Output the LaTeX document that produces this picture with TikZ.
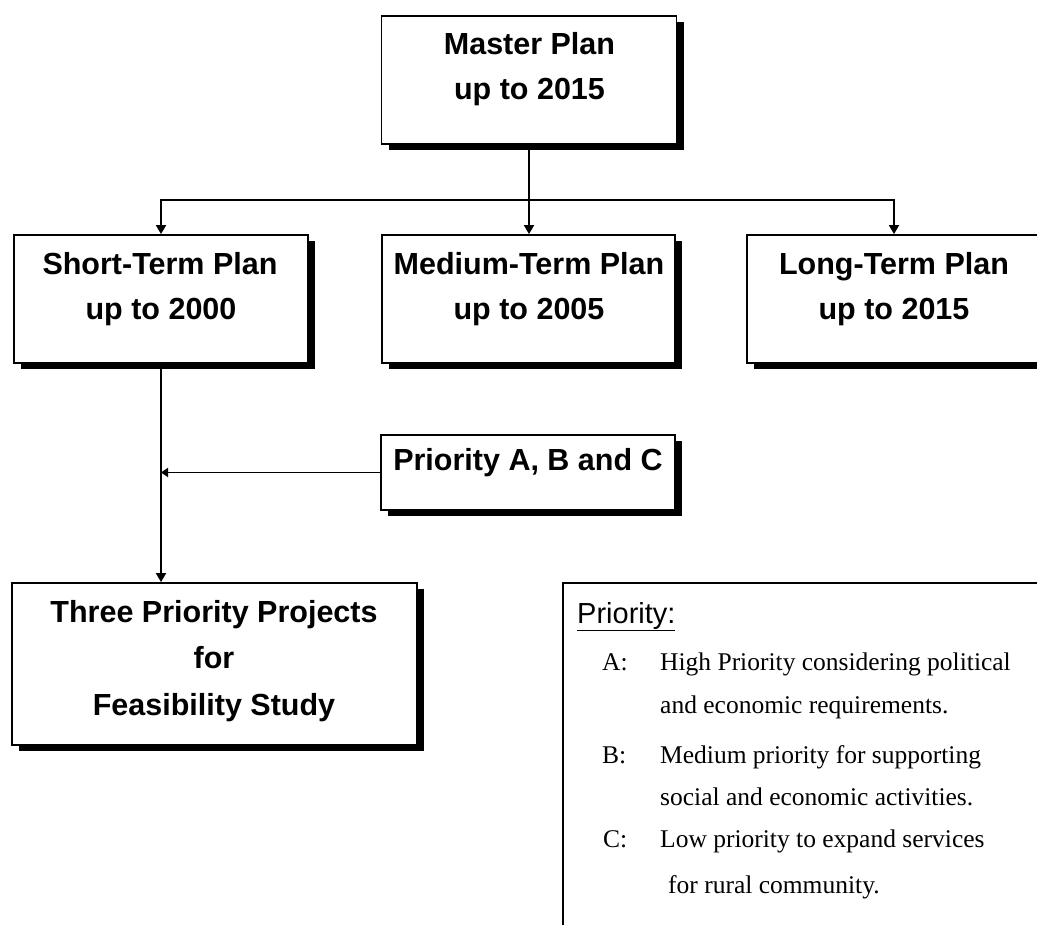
\documentclass[tikz,border=0pt]{standalone}
\usepackage{fontspec}
\setmainfont{Liberation Serif}
\setsansfont{Liberation Sans}
\usetikzlibrary{shadows,arrows.meta}
\begin{document}
\begin{tikzpicture}[x=1pt,y=-1pt,
  planbox/.style={draw, line width=1.8pt, fill=white, inner sep=0pt,
    general shadow={fill=black, shadow xshift=7pt, shadow yshift=-6pt}},
  legendbox/.style={draw, line width=1.6pt, fill=white, inner sep=0pt},
  bt/.style={font=\sffamily\bfseries\fontsize{30.5}{36}\selectfont, anchor=base, inner sep=0pt},
  lt/.style={font=\rmfamily\fontsize{25.5}{30}\selectfont, anchor=base west, inner sep=0pt},
  conn/.style={line width=1.8pt},
  arr/.style={conn, -{Triangle[length=9pt,width=10pt]}},
  smallarr/.style={conn, -{Triangle[length=7pt,width=9pt]}}]
\useasboundingbox (0,0) rectangle (1037,925);
\clip (0,0) rectangle (1037,925);
\fill[white] (0,0) rectangle (1037,925);

% boxes
\node[planbox, minimum width=295pt, minimum height=128pt] (master) at (529,80) {};
\node[planbox, minimum width=294pt, minimum height=128pt] (short) at (161,299) {};
\node[planbox, minimum width=293pt, minimum height=128pt] (medium) at (528.5,299) {};
\node[planbox, minimum width=294pt, minimum height=128pt] (long) at (894,299) {};
\node[planbox, minimum width=294pt, minimum height=75pt] (prio) at (528,472.5) {};
\node[planbox, minimum width=405pt, minimum height=162pt] (three) at (214.5,664) {};
\node[legendbox, minimum width=497pt, minimum height=377pt] (legend) at (811.5,771.5) {};

% box texts
\node[bt] (mt1) at (529.5,55) {Master Plan};
\node[bt] (mt2) at (529.5,100) {up to 2015};
\node[bt] (st1) at (160,275) {Short-Term Plan};
\node[bt] (st2) at (161,320) {up to 2000};
\node[bt] (md1) at (529,275) {Medium-Term Plan};
\node[bt] (md2) at (529,320) {up to 2005};
\node[bt] (lg1) at (894,275) {Long-Term Plan};
\node[bt] (lg2) at (894,320) {up to 2015};
\node[bt] (pr1) at (528,470) {Priority A, B and C};
\node[bt] (th1) at (214,622) {Three Priority Projects};
\node[bt] (th2) at (214,668) {for};
\node[bt] (th3) at (214,715) {Feasibility Study};

% legend text
\node[anchor=base west, inner sep=0pt, font=\sffamily\fontsize{29}{34}\selectfont] (lhead) at (577,623) {\underline{Priority:}};
\node[lt] (la) at (602,670) {A:};
\node[lt] (la1) at (660,670) {High Priority considering political};
\node[lt] (la2) at (660,713) {and economic requirements.};
\node[lt] (lb) at (602,763) {B:};
\node[lt] (lb1) at (660,763) {Medium priority for supporting};
\node[lt] (lb2) at (660,805) {social and economic activities.};
\node[lt] (lc) at (603,847) {C:};
\node[lt] (lc1) at (660,847) {Low priority to expand services};
\node[lt] (lc2) at (668,893) {for rural community.};

% connectors
\coordinate (hub) at (master.south |- 0,200);
\draw[arr] (master.south) -- (master.south |- medium.north);
\draw[arr] (hub) -| (short.north);
\draw[arr] (hub) -| (long.north);
\draw[arr] (short.south) -- (short.south |- three.north);
\draw[smallarr] (prio.west) -- (prio.west -| short.south);
\end{tikzpicture}
\end{document}
